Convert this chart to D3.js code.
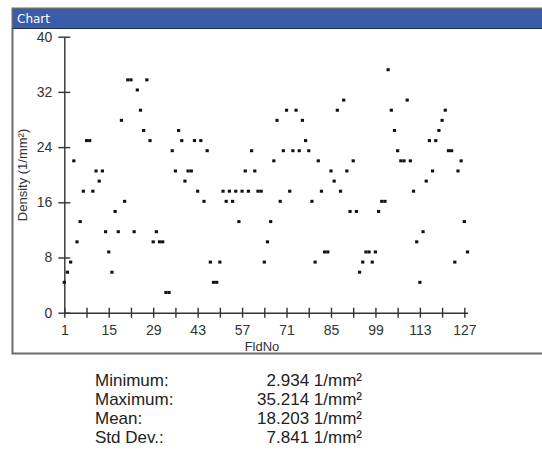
<!DOCTYPE html>
<html>
<head>
<meta charset="utf-8">
<script src="https://cdn.jsdelivr.net/npm/d3@7/dist/d3.min.js"></script>
<style>
  html, body { margin: 0; padding: 0; background: #fff; }
  svg { display: block; }
</style>
</head>
<body>
<svg id="chart" width="542" height="463"></svg>
<script>
// Field numbers and measured density per field (1/mm²)
const fieldNos = d3.range(1, 129);
const densities = [
  4.402, 5.869, 7.336, 22.009, 10.271, 13.205, 17.607, 24.943, 24.943, 17.607,
  20.542, 19.074, 20.542, 11.738, 8.804, 5.869, 14.673, 11.738, 27.878, 16.140,
  33.747, 33.747, 11.738, 32.280, 29.345, 26.411, 33.747, 24.943, 10.271, 11.738,
  10.271, 10.271, 2.934, 2.934, 23.476, 20.542, 26.411, 24.943, 19.074, 20.542,
  20.542, 24.943, 17.607, 24.943, 16.140, 23.476, 7.336, 4.402, 4.402, 7.336,
  17.607, 16.140, 17.607, 16.140, 17.607, 13.205, 17.607, 20.542, 17.607, 23.476,
  20.542, 17.607, 17.607, 7.336, 10.271, 13.205, 22.009, 27.878, 16.140, 23.476,
  29.345, 17.607, 23.476, 29.345, 23.476, 27.878, 24.943, 23.476, 16.140, 7.336,
  22.009, 17.607, 8.804, 8.804, 20.542, 19.074, 29.345, 17.607, 30.812, 20.542,
  14.673, 22.009, 14.673, 5.869, 7.336, 8.804, 8.804, 7.336, 8.804, 14.673,
  16.140, 16.140, 35.214, 29.345, 26.411, 23.476, 22.009, 22.009, 30.812, 22.009,
  17.607, 10.271, 4.402, 11.738, 19.074, 24.943, 20.542, 24.943, 26.411, 27.878,
  29.345, 23.476, 23.476, 7.336, 20.542, 22.009, 13.205, 8.804
];
const yTicks = [0, 8, 16, 24, 32, 40];
const xTicks = d3.range(1, 128, 7);          // 1, 8, 15, ... 127
const xLabels = d3.range(1, 128, 14);        // 1, 15, 29, ... 127
const statNames = ["Minimum:", "Maximum:", "Mean:", "Std Dev.:"];
const unit = "1/mm²";

const data = fieldNos.map((f, i) => ({ f, v: densities[i] }));
const svg = d3.select("#chart");
const FONT = "'Liberation Sans', Arial, sans-serif";

// panel frame with title bar
const panel = { x: 12, y: 8, w: 540, h: 345 };
svg.append("rect")
  .attr("x", panel.x + 0.5).attr("y", panel.y + 0.5)
  .attr("width", panel.w).attr("height", panel.h)
  .attr("fill", "#fff").attr("stroke", "#6b6b6b").attr("stroke-width", 2);
svg.append("rect")
  .attr("x", panel.x + 1).attr("y", panel.y + 1)
  .attr("width", panel.w).attr("height", 19)
  .attr("fill", "#3b5ca8");
svg.append("line")
  .attr("x1", panel.x).attr("x2", 542)
  .attr("y1", panel.y + 20.5).attr("y2", panel.y + 20.5)
  .attr("stroke", "#1f2f55").attr("stroke-width", 1);
svg.append("text")
  .attr("x", 17).attr("y", 23)
  .attr("fill", "#fff")
  .attr("font-family", "Tahoma, 'DejaVu Sans', sans-serif")
  .attr("font-size", 12)
  .text("Chart");

// scales
const x = d3.scaleLinear().domain([1, 128]).range([64.3, 467.5]);
const y = d3.scaleLinear().domain([0, 40]).range([312.7, 36.7]);

// y axis
const gy = svg.append("g").attr("transform", `translate(${x(1)},0)`)
  .call(d3.axisLeft(y).tickValues(yTicks).tickSizeInner(6).tickSizeOuter(0).tickPadding(6));
gy.selectAll(".tick line").attr("x1", -6).attr("x2", 6);

// x axis
const gx = svg.append("g").attr("transform", `translate(0,${y(0)})`)
  .call(d3.axisBottom(x).tickValues(xTicks).tickSizeInner(5).tickSizeOuter(0).tickPadding(7)
    .tickFormat(d => xLabels.includes(d) ? d : ""));
gx.selectAll(".tick line").attr("y1", -5).attr("y2", 5);

[gx, gy].forEach(g => {
  g.select(".domain").attr("stroke", "#333").attr("stroke-width", 1.4);
  g.selectAll(".tick line").attr("stroke", "#333").attr("stroke-width", 1.4);
  g.selectAll(".tick text").attr("fill", "#333").attr("font-family", FONT).attr("font-size", 14);
});

// axis titles
svg.append("text")
  .attr("x", 262).attr("y", 351)
  .attr("text-anchor", "middle")
  .attr("fill", "#333").attr("font-family", FONT).attr("font-size", 13)
  .text("FldNo");
svg.append("text")
  .attr("transform", "translate(27,175) rotate(-90)")
  .attr("text-anchor", "middle")
  .attr("fill", "#333").attr("font-family", FONT).attr("font-size", 13)
  .text("Density (1/mm²)");

// points
svg.append("g").selectAll("rect").data(data).join("rect")
  .attr("x", d => x(d.f) - 1.6)
  .attr("y", d => y(d.v) - 1.5)
  .attr("width", 3.2).attr("height", 3)
  .attr("fill", "#111");

// summary statistics
const fmt = d3.format(".3f");
const statValues = [d3.min(densities), d3.max(densities), d3.mean(densities), d3.deviation(densities)];
const stats = svg.append("g").attr("font-family", FONT).attr("font-size", 17).attr("fill", "#222");
statNames.forEach((name, i) => {
  const yy = 386 + i * 19;
  stats.append("text").attr("x", 95).attr("y", yy).text(name);
  stats.append("text").attr("x", 362).attr("y", yy).attr("text-anchor", "end")
    .text(`${fmt(statValues[i])} ${unit}`);
});
</script>
</body>
</html>
